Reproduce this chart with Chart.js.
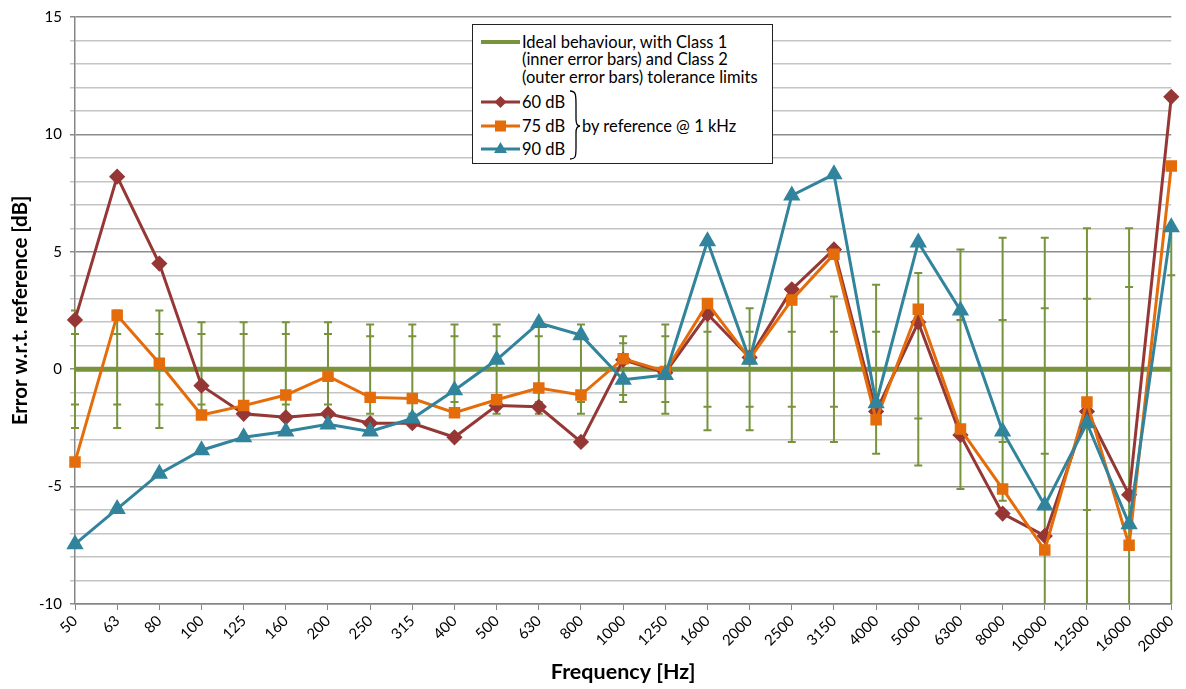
<!DOCTYPE html>
<html>
<head>
<meta charset="utf-8">
<script src="https://cdn.jsdelivr.net/npm/chart.js@4.4.1/dist/chart.umd.min.js"></script>
<style>
  body { margin: 0; background: #fff; }
  #wrap { position: relative; width: 1186px; height: 689px; }
  #legend {
    position: absolute; left: 472px; top: 24px; width: 299px; height: 138px;
    border: 1.5px solid #222; background: #fff;
    font-family: Lato, "Open Sans", sans-serif; font-size: 16.5px; color: #000;
  }
  #legend .t { position: absolute; white-space: nowrap; line-height: 18px; }
  #legend svg { position: absolute; left: 0; top: 0; }
</style>
</head>
<body>
<div id="wrap">
  <canvas id="myChart" width="1186" height="689"></canvas>
  <div id="legend">
    <svg width="299" height="138">
      <line x1="8" y1="17" x2="47" y2="17" stroke="#77933C" stroke-width="4"/>
      <line x1="8" y1="77" x2="47" y2="77" stroke="#953735" stroke-width="3"/>
      <polygon points="27.5,71 33.5,77 27.5,83 21.5,77" fill="#953735"/>
      <line x1="8" y1="101" x2="47" y2="101" stroke="#E46C0A" stroke-width="3"/>
      <rect x="22" y="95.5" width="11" height="11" fill="#E46C0A"/>
      <line x1="8" y1="124" x2="47" y2="124" stroke="#31849B" stroke-width="3"/>
      <polygon points="27.5,117 34,128 21,128" fill="#31849B"/>
      <path d="M97,66 C103,66 103,70 103,80 L103,94 C103,99 104,101 107,101 C104,101 103,103 103,108 L103,122 C103,131 103,134 97,134" fill="none" stroke="#000" stroke-width="1.3"/>
    </svg>
    <div class="t" style="left:49px; top:8px;">Ideal behaviour, with Class 1</div>
    <div class="t" style="left:49px; top:25px;">(inner error bars) and Class 2</div>
    <div class="t" style="left:49px; top:43px;">(outer error bars) tolerance limits</div>
    <div class="t" style="left:49px; top:68px;">60 dB</div>
    <div class="t" style="left:49px; top:92px;">75 dB</div>
    <div class="t" style="left:49px; top:115px;">90 dB</div>
    <div class="t" style="left:109px; top:92px;">by reference @ 1 kHz</div>
  </div>
</div>
<script>
// third-octave bands
const freqs = ['50','63','80','100','125','160','200','250','315','400','500','630','800','1000','1250',
  '1600','2000','2500','3150','4000','5000','6300','8000','10000','12500','16000','20000'];

// measured error, dB
const err60 = [2.1, 8.2, 4.5, -0.7, -1.9, -2.05, -1.9, -2.3, -2.3, -2.9, -1.55, -1.6, -3.1, 0.4, -0.15,
  2.35, 0.5, 3.4, 5.1, -1.8, 2.0, -2.8, -6.15, -7.1, -1.8, -5.35, 11.6];
const err75 = [-3.95, 2.3, 0.25, -1.95, -1.55, -1.1, -0.3, -1.2, -1.25, -1.85, -1.3, -0.8, -1.1, 0.45, -0.1,
  2.8, 0.45, 2.95, 4.9, -2.15, 2.55, -2.55, -5.1, -7.7, -1.4, -7.5, 8.65];
const err90 = [-7.45, -5.95, -4.45, -3.45, -2.9, -2.65, -2.35, -2.65, -2.1, -0.9, 0.4, 1.97, 1.45, -0.45, -0.25,
  5.45, 0.4, 7.4, 8.3, -1.45, 5.4, 2.5, -2.65, -5.8, -2.3, -6.6, 6.05];
const ideal = freqs.map(() => 0);

// tolerance limits (null = minus infinity)
const class1Up = [1.5, 1.5, 1.5, 1.5, 1.5, 1.5, 1.5, 1.4, 1.4, 1.4, 1.4, 1.4, 1.4, 1.1, 1.4,
  1.6, 1.6, 1.6, 1.6, 1.6, 2.1, 2.1, 2.1, 2.6, 3.0, 3.5, 4.0];
const class1Lo = [-1.5, -1.5, -1.5, -1.5, -1.5, -1.5, -1.5, -1.4, -1.4, -1.4, -1.4, -1.4, -1.4, -1.1, -1.4,
  -1.6, -1.6, -1.6, -1.6, -1.6, -2.1, -2.6, -3.1, -3.6, -6.0, -17, null];
const class2Up = [2.5, 2.5, 2.5, 2.0, 2.0, 2.0, 2.0, 1.9, 1.9, 1.9, 1.9, 1.9, 1.9, 1.4, 1.9,
  2.6, 2.6, 3.1, 3.1, 3.6, 4.1, 5.1, 5.6, 5.6, 6.0, 6.0, 6.0];
const class2Lo = [-2.5, -2.5, -2.5, -2.0, -2.0, -2.0, -2.0, -1.9, -1.9, -1.9, -1.9, -1.9, -1.9, -1.4, -1.9,
  -2.6, -2.6, -3.1, -3.1, -3.6, -4.1, -5.1, -5.6, null, null, null, null];

const yTicks = [-10, -5, 0, 5, 10, 15];

const errorBars = {
  id: 'errorBars',
  beforeDatasetsDraw(chart) {
    const ctx = chart.ctx, x = chart.scales.x, y = chart.scales.y, area = chart.chartArea;
    ctx.save();
    ctx.beginPath();
    ctx.rect(area.left - 6, area.top, area.right - area.left + 12, area.bottom - area.top);
    ctx.clip();
    ctx.strokeStyle = '#77933C';
    ctx.lineWidth = 2;
    const cap = (px, v) => {
      if (v === null || v < y.min) return;
      const py = y.getPixelForValue(v);
      ctx.beginPath(); ctx.moveTo(px - 4, py); ctx.lineTo(px + 4, py); ctx.stroke();
    };
    for (let i = 0; i < freqs.length; i++) {
      const px = x.getPixelForValue(i);
      const top = y.getPixelForValue(class2Up[i]);
      const bot = class2Lo[i] === null ? area.bottom : y.getPixelForValue(class2Lo[i]);
      ctx.beginPath(); ctx.moveTo(px, top); ctx.lineTo(px, bot); ctx.stroke();
      cap(px, class2Up[i]); cap(px, class2Lo[i]);
      cap(px, class1Up[i]); cap(px, class1Lo[i]);
    }
    ctx.restore();
  }
};

const ctx = document.getElementById('myChart');
new Chart(ctx, {
  type: 'line',
  data: {
    labels: freqs,
    datasets: [
      { label: 'Ideal', data: ideal, borderColor: '#77933C', borderWidth: 5, pointRadius: 0, order: 3, clip: false },
      { label: '60 dB', data: err60, borderColor: '#953735', backgroundColor: '#953735', borderWidth: 3,
        pointStyle: 'rectRot', pointRadius: 6, order: 2, clip: false },
      { label: '75 dB', data: err75, borderColor: '#E46C0A', backgroundColor: '#E46C0A', borderWidth: 3,
        pointStyle: 'rect', pointRadius: 6, order: 1, clip: false },
      { label: '90 dB', data: err90, borderColor: '#31849B', backgroundColor: '#31849B', borderWidth: 3,
        pointStyle: 'triangle', pointRadius: 7, order: 0, clip: false }
    ]
  },
  options: {
    responsive: false,
    animation: false,
    events: [],
    layout: { padding: { top: 15, right: 11, left: 0, bottom: 0 } },
    plugins: { legend: { display: false }, tooltip: { enabled: false } },
    scales: {
      x: {
        offset: false,
        grid: { drawOnChartArea: false, color: '#868686', tickLength: 6, lineWidth: 1 },
        border: { color: '#868686', width: 1.5 },
        ticks: { minRotation: 45, maxRotation: 45, autoSkip: false, color: '#000', padding: 2,
          font: { family: 'Lato', size: 15 } },
        title: { display: true, text: 'Frequency [Hz]', color: '#000', padding: { top: 4, bottom: 4 },
          font: { family: 'Lato', size: 21.5, weight: 'bold' } },
        afterFit(scale) { scale.height = 85; }
      },
      y: {
        min: -10, max: 15,
        grid: {
          color: c => (c.tick.value % 5 === 0 ? '#8C8C8C' : '#C4C4C4'),
          lineWidth: 1.5, tickLength: 5
        },
        border: { color: '#868686', width: 1.5 },
        ticks: {
          stepSize: 1, color: '#000', padding: 8, font: { family: 'Lato', size: 15 },
          callback: v => (yTicks.includes(v) ? v : '')
        },
        title: { display: true, text: 'Error w.r.t. reference [dB]', color: '#000', padding: { top: 8, bottom: 0 },
          font: { family: 'Lato', size: 20.5, weight: 'bold' } },
        afterFit(scale) { scale.width = 75; }
      }
    }
  },
  plugins: [errorBars]
});
</script>
</body>
</html>
